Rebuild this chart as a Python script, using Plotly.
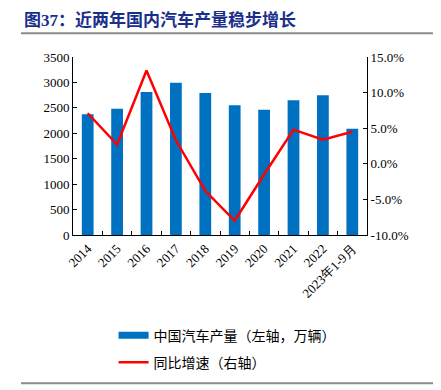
import plotly.graph_objects as go

categories = ["2014", "2015", "2016", "2017", "2018", "2019", "2020", "2021", "2022", "2023年1-9月"]
production = [2372, 2484, 2812, 2994, 2790, 2550, 2462, 2650, 2748, 2090]
growth = [7.1, 2.7, 13.1, 3.3, -3.8, -8.0, -1.5, 4.8, 3.4, 4.5]
left_ticks = [0, 500, 1000, 1500, 2000, 2500, 3000, 3500]
right_ticks = [-10, -5, 0, 5, 10, 15]

title_text = "图37：近两年国内汽车产量稳步增长"
bar_name = "中国汽车产量（左轴，万辆）"
line_name = "同比增速（右轴）"

BLUE = "#0070C0"
RED = "#FF0000"
SERIF = "Liberation Serif"
CJK = "Noto Sans CJK SC"

fig = go.Figure()
fig.add_trace(go.Bar(x=categories, y=production, name=bar_name, marker_color=BLUE,
                     marker_line_width=0, width=0.4, showlegend=False, yaxis="y"))
fig.add_trace(go.Scatter(x=categories, y=growth, name=line_name, mode="lines",
                         line=dict(color=RED, width=2.5), showlegend=False, yaxis="y2"))
# legend-only entries
fig.add_trace(go.Scatter(x=[None], y=[None], name=bar_name, mode="lines", legendgroup="a",
                         line=dict(color=BLUE, width=7), yaxis="y"))
fig.add_trace(go.Scatter(x=[None], y=[None], name=line_name, mode="lines", legendgroup="b",
                         line=dict(color=RED, width=2.5), yaxis="y2"))

fig.update_layout(
    width=433, height=382,
    margin=dict(l=65, r=74, t=49, b=153),
    paper_bgcolor="white", plot_bgcolor="white",
    xaxis=dict(type="category", showline=True, linecolor="black", linewidth=1,
               ticks="inside", ticklen=4, tickcolor="black", tickson="boundaries",
               tickangle=-45, tickfont=dict(family=SERIF, size=13, color="black"),
               showgrid=False, zeroline=False),
    yaxis=dict(range=[0, 3500], tickvals=left_ticks, showline=True, linecolor="black",
               linewidth=1, ticks="inside", ticklen=4, tickcolor="black",
               tickfont=dict(family=SERIF, size=13, color="black"),
               showgrid=False, zeroline=False),
    yaxis2=dict(range=[-10, 15], tickvals=right_ticks,
                ticktext=["%.1f%%" % v for v in right_ticks],
                overlaying="y", side="right", showline=True, linecolor="black",
                linewidth=1, ticks="inside", ticklen=4, tickcolor="black",
                tickfont=dict(family=SERIF, size=13, color="black"),
                showgrid=False, zeroline=False),
    legend=dict(orientation="v", x=0.138, y=-0.475, xanchor="left", yanchor="top",
                font=dict(family=CJK, size=14, color="black"), tracegroupgap=6,
                bgcolor="rgba(0,0,0,0)", itemwidth=30),
    shapes=[
        dict(type="line", xref="paper", yref="paper", x0=-52/294, x1=360/294,
             y0=1 + 24/180, y1=1 + 24/180, line=dict(color="#8C8C8C", width=2)),
        dict(type="line", xref="paper", yref="paper", x0=-52/294, x1=360/294,
             y0=-150/180, y1=-150/180, line=dict(color="#8C8C8C", width=2)),
    ],
    annotations=[
        dict(text="<b>" + title_text + "</b>", xref="paper", yref="paper",
             x=-51/294, y=1 + 37/180, xanchor="left", yanchor="middle", showarrow=False,
             font=dict(family=SERIF + ", " + CJK, size=17, color="#1A2F8A")),
    ],
)

fig.write_html("out.html")
